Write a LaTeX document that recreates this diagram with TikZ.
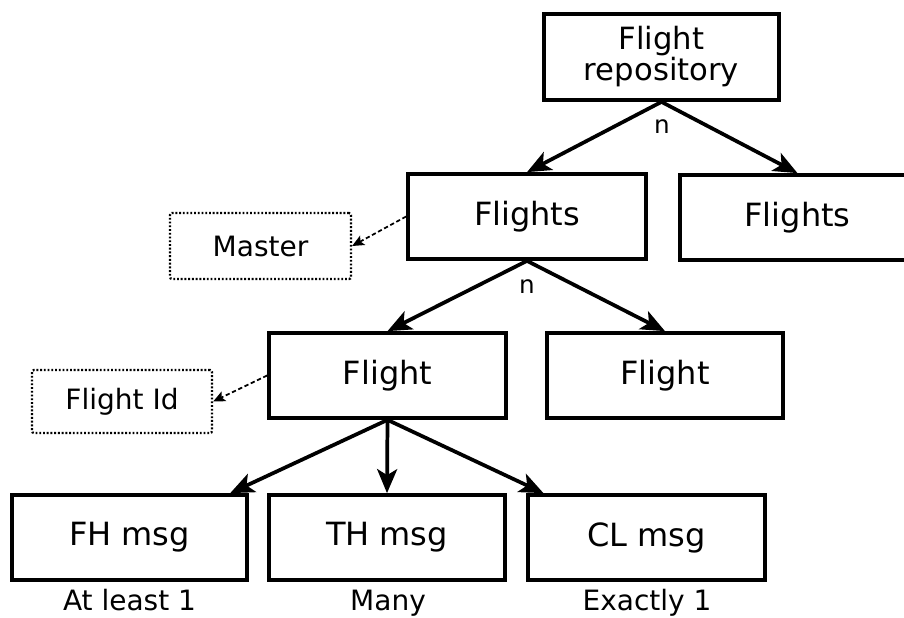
\documentclass[tikz,border=0pt]{standalone}
\usepackage{fontspec}
\setmainfont{DejaVu Sans}
\usetikzlibrary{arrows.meta}
\begin{document}
\begin{tikzpicture}[x=0.75pt,y=-0.75pt,
  box/.style={draw=black, line width=2.8pt, minimum width=177pt, minimum height=63.75pt,
              inner sep=0pt, font=\fontsize{24}{28}\selectfont},
  note/.style={draw=black, line width=1.7pt, dash pattern=on 1.4pt off 1.4pt,
               rounded corners=1.5pt, minimum width=135pt, minimum height=48pt,
               inner sep=0pt, font=\fontsize{21}{25}\selectfont},
  link/.style={line width=2.8pt, -{Stealth[length=18pt,width=15pt,inset=4.5pt]}},
  ref/.style={line width=1.3pt, dash pattern=on 3.2pt off 2pt, -{Stealth[length=9pt,width=8pt,inset=2pt]}},
  card/.style={font=\fontsize{18.5}{22}\selectfont, inner sep=0pt},
  count/.style={font=\fontsize{21}{25}\selectfont, anchor=base, inner sep=0pt}]
\useasboundingbox (0,0) rectangle (904,618);
\clip (0,0) rectangle (904,618);

% boxes
\node[box, align=center, font=\fontsize{23}{18.5}\selectfont,
      minimum width=176.25pt, minimum height=64.5pt] (repo) at (661.5,57) {Flight\\repository};
\node[box, minimum width=178.5pt] (fl1) at (527,216.5) {Flights};
\node[box, minimum width=176.25pt] (fl2) at (797.5,217.5) {Flights};
\node[note, minimum width=135.75pt, minimum height=49.5pt] (master) at (260.5,246) {Master};
\node[box, minimum width=177.75pt] (f1) at (387.5,375.5) {Flight};
\node[box] (f2) at (665,375.5) {Flight};
\node[note, minimum width=135pt, minimum height=47.25pt] (fid) at (122,401.5) {Flight Id};
\node[box, minimum width=176.25pt] (fh) at (129.5,537.5) {FH msg};
\node[box] (th) at (387,537.5) {TH msg};
\node[box, minimum width=177.75pt] (cl) at (646.5,537.5) {CL msg};

% hierarchy links
\draw[link] (repo.south) -- (fl1.north);
\draw[link] (repo.south) -- (fl2.north);
\node[card] (n1) at (662,127) {n};
\draw[link] (fl1.south) -- (f1.north);
\draw[link] (fl1.south) -- (f2.north);
\node[card] (n2) at (527,287) {n};
\draw[link] (f1.south) -- ([xshift=-14pt]fh.north east);
\draw[link] (f1.south) -- (th.north);
\draw[link] (f1.south) -- ([xshift=13pt]cl.north west);

% key references
\draw[ref] (fl1.west) -- (master.east);
\draw[ref] (f1.west) -- (fid.east);

% multiplicities
\node[count] (c1) at (129.5,610) {At least 1};
\node[count] (c2) at (388,610) {Many};
\node[count] (c3) at (647,610) {Exactly 1};
\end{tikzpicture}
\end{document}
